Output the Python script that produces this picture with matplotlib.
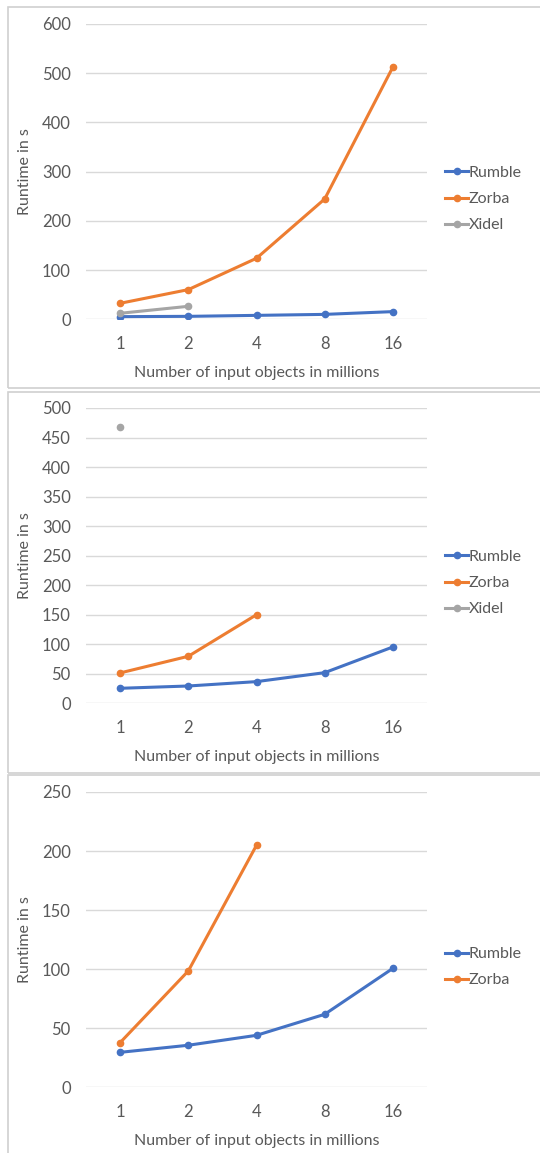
import numpy as np
import matplotlib
matplotlib.use('Agg')
import matplotlib.pyplot as plt
from matplotlib.patches import Rectangle

plt.rcParams['font.family'] = ['Lato', 'DejaVu Sans']

sizes = ['1', '2', '4', '8', '16']

# panel 1
rumble1 = [5.4, 6.0, 8.0, 10.0, 15.6]
zorba1 = [32.5, 60.3, 124, 244.5, 512.6]
xidel1 = [12.2, 26.4]

# panel 2
rumble2 = [25.4, 29.3, 36.7, 51.9, 95.4]
zorba2 = [51.4, 79.6, 150]
xidel2 = [467.8]

# panel 3
rumble3 = [29.6, 35.6, 44.0, 61.8, 100.7]
zorba3 = [37.8, 98.5, 204.9]

W, H = 540, 1153
blue = '#4472C4'
orange = '#ED7D31'
grey = '#A5A5A5'
txt = '#595959'
gridc = '#D9D9D9'

fig = plt.figure(figsize=(W/100, H/100), dpi=100)

# panel frames (pixel coords: left, top, bottom)
frames = [(8, 7.3, 388), (8, 391.7, 772.7), (8, 774.5, 1160)]
for l, t, b in frames:
    fig.patches.append(Rectangle((l/W, 1-b/H), (W+10-l)/W, (b-t)/H,
                                 transform=fig.transFigure, fill=False,
                                 edgecolor='#D0D0D0', linewidth=1.2))

panels = [
    (24, 319.3, 600, 100, [('Rumble', rumble1, blue), ('Zorba', zorba1, orange), ('Xidel', xidel1, grey)]),
    (408, 703.3, 500, 50, [('Rumble', rumble2, blue), ('Zorba', zorba2, orange), ('Xidel', xidel2, grey)]),
    (792, 1087.3, 250, 50, [('Rumble', rumble3, blue), ('Zorba', zorba3, orange)]),
]

for top, bot, ymax, step, series in panels:
    ax = fig.add_axes([86/W, 1-bot/H, 341/W, (bot-top)/H])
    for name, vals, col in series:
        ax.plot(np.arange(len(vals)), vals, '-o', color=col, lw=2.2, ms=4.5, label=name)
    ax.set_xlim(-0.5, 4.5)
    ax.set_ylim(0, ymax)
    ax.set_xticks(range(len(sizes)))
    ax.set_xticklabels(sizes)
    ax.set_yticks(np.arange(0, ymax+1, step))
    ax.tick_params(length=0, labelsize=12, colors=txt)
    ax.tick_params(axis='y', pad=11)
    ax.tick_params(axis='x', pad=12)
    for s in ax.spines.values():
        s.set_visible(False)
    ax.grid(axis='y', color=gridc, lw=1)
    ax.set_axisbelow(True)
    ax.set_ylabel('Runtime in s', fontsize=11.5, color=txt)
    ax.yaxis.set_label_coords(-0.158, 0.5)
    ax.set_xlabel('Number of input objects in millions', fontsize=11.5, color=txt)
    ax.xaxis.set_label_coords(0.5, -0.158)
    leg = ax.legend(loc='center left', bbox_to_anchor=(1.035, 0.407), frameon=False,
                    fontsize=11.5, handlelength=1.45, handletextpad=0.0,
                    labelspacing=0.75, borderaxespad=0)
    for t in leg.get_texts():
        t.set_color(txt)

fig.savefig('out.png', dpi=100, facecolor='white')
